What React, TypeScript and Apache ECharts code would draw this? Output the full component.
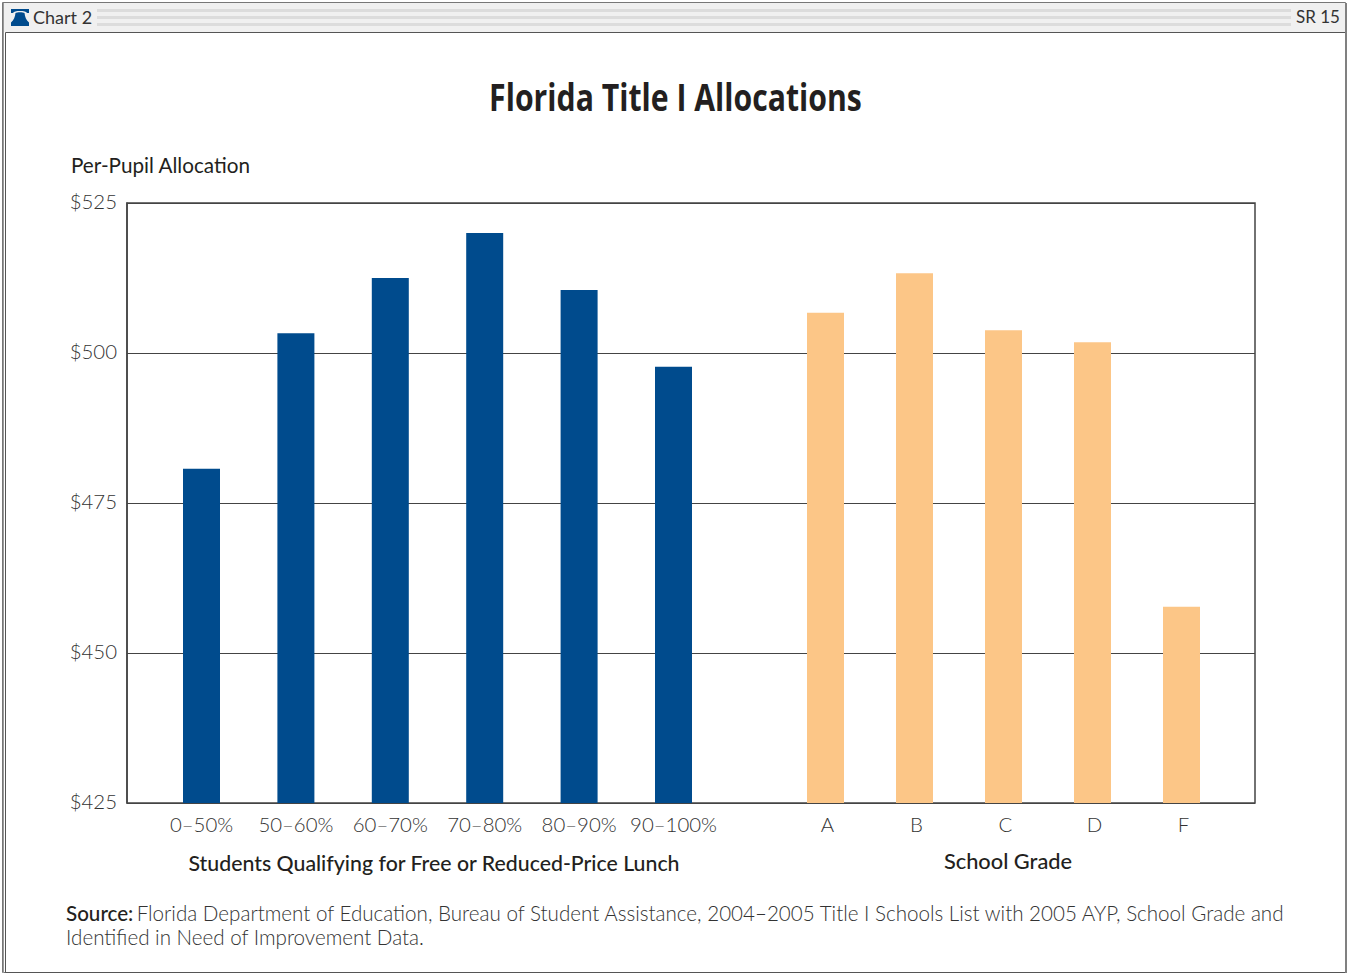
import React, { useEffect, useRef } from "react";
import * as echarts from "echarts";

const lunchCategories = ["0–50%", "50–60%", "60–70%", "70–80%", "80–90%", "90–100%"];
const lunchValues = [480.7, 503.3, 512.5, 520, 510.5, 497.7];
const gradeCategories = ["A", "B", "C", "D", "F"];
const gradeValues = [506.7, 513.3, 503.8, 501.8, 457.7];
const yMin = 425;
const yMax = 525;
const yStep = 25;
const titleText = "Florida Title I Allocations";
const yTitle = "Per-Pupil Allocation";
const lunchAxisTitle = "Students Qualifying for Free or Reduced-Price Lunch";
const gradeAxisTitle = "School Grade";
const sourceLine1 = "Florida Department of Education, Bureau of Student Assistance, 2004–2005 Title I Schools List with 2005 AYP, School Grade and";
const sourceLine2 = "Identified in Need of Improvement Data.";

const FONT = "Lato, 'Open Sans', sans-serif";
const bell = "M11 9 L29 9 L29 13 L27 13 C26 11.5 24 11 20 11 C16 11 14 11.5 13 13 L11 13 Z M15.5 13 C17 12 23 12 24.5 13 C25 17 26 20 29 22.5 L29 26 L11 26 L11 22.5 C14 20 15 17 15.5 13 Z";
echarts.graphic.registerShape("bell", echarts.graphic.extendPath(bell, {}));

export default function App() {
  const ref = useRef<HTMLDivElement>(null);
  useEffect(() => {
    document.body.style.margin = "0";
    document.body.style.background = "#fff";
    const chart = echarts.init(ref.current!, null, { renderer: "svg" });
    const top = 203;
    const height = 600;
    const catAxis = (
      gridIndex: number, data: string[], name: string, gap: number,
      nameSize: number, namePadding: number[], labelPadding: number[],
    ) => ({
      type: "category" as const,
      gridIndex,
      data,
      name,
      nameLocation: "middle" as const,
      nameGap: gap,
      nameTextStyle: { fontFamily: FONT, fontSize: nameSize, fontWeight: 500, color: "#231f20", padding: namePadding },
      axisLine: { show: false },
      axisTick: { show: false },
      axisLabel: { interval: 0, margin: 11, padding: labelPadding, fontFamily: FONT, fontWeight: 300, fontSize: 20.4, color: "#333" },
    });
    const hiddenY = (gridIndex: number) => ({
      type: "value" as const, gridIndex, min: yMin, max: yMax, interval: yStep, show: false,
    });
    const stripes = [9, 16, 23].map((y) => ({
      type: "rect", shape: { x: 97, y, width: 1194, height: 3 }, style: { fill: "#dcdcdc" }, silent: true,
    }));
    chart.setOption({
      animation: false,
      backgroundColor: "#fff",
      title: [
        { text: yTitle, left: 66, top: 149, textStyle: { fontFamily: FONT, fontSize: 20.7, fontWeight: 400, color: "#231f20" } },
      ],
      grid: [
        { left: 127, top, width: 1128, height, show: true, borderColor: "#444", borderWidth: 1.5, backgroundColor: "#fff" },
        { left: 154.3, top, width: 566.4, height },
        { left: 781, top, width: 445, height },
      ],
      xAxis: [
        { type: "category", gridIndex: 0, data: [""], show: false },
        catAxis(1, lunchCategories, lunchAxisTitle, 49, 21.3, [0, 7, 0, 0], [0, 0, 0, 0]),
        catAxis(2, gradeCategories, gradeAxisTitle, 46, 21.8, [0, 0, 0, 9], [0, 0, 0, 4]),
      ],
      yAxis: [
        {
          type: "value", gridIndex: 0, min: yMin, max: yMax, interval: yStep,
          axisLine: { show: true, lineStyle: { color: "#444", width: 1.5 } },
          axisTick: { show: false },
          splitLine: { show: true, lineStyle: { color: "#444", width: 1 } },
          axisLabel: { margin: 10, verticalAlign: "bottom", lineHeight: 5, fontFamily: FONT, fontWeight: 300, fontSize: 20.4, color: "#333", formatter: (v: number) => "$" + v },
        },
        hiddenY(1),
        hiddenY(2),
      ],
      series: [
        { type: "bar", xAxisIndex: 1, yAxisIndex: 1, data: lunchValues, barWidth: 37, itemStyle: { color: "#004b8d" } },
        { type: "bar", xAxisIndex: 2, yAxisIndex: 2, data: gradeValues, barWidth: 37, itemStyle: { color: "#fcc687" } },
      ],
      graphic: [
        { type: "rect", shape: { x: 3, y: 3, width: 1343, height: 29 }, style: { fill: "#f0f0f0" }, silent: true },
        ...stripes,
        { type: "rect", shape: { x: 2.5, y: 2.5, width: 1343, height: 970 }, style: { fill: "none", stroke: "#777", lineWidth: 1 }, silent: true },
        { type: "rect", shape: { x: 5.5, y: 32.5, width: 1340, height: 940 }, style: { fill: "none", stroke: "#555", lineWidth: 1 }, silent: true },
        { type: "rect", shape: { x: 1345, y: 3, width: 2, height: 970 }, style: { fill: "#808080" }, silent: true },
        { type: "rect", shape: { x: 3, y: 3, width: 1, height: 970 }, style: { fill: "#999" }, silent: true },
        { type: "bell", x: 0, y: 0, style: { fill: "#004b8d" }, silent: true },
        { type: "text", x: 33, y: 8, silent: true, style: { text: "Chart 2", font: `400 18px ${FONT}`, fill: "#333" } },
        { type: "text", x: 1296, y: 8, silent: true, style: { text: "SR 15", font: `400 17px ${FONT}`, fill: "#333" } },
        {
          type: "text", x: 675.5, y: 96, scaleX: 0.795, silent: true,
          style: {
            text: titleText,
            font: "700 38px 'Open Sans', sans-serif",
            fill: "#231f20",
            textAlign: "center",
            textVerticalAlign: "middle",
          },
        },
        {
          type: "text", x: 66, y: 901, silent: true,
          style: {
            text: `{b|Source:} {r|${sourceLine1}}\n{r|${sourceLine2}}`,
            rich: {
              b: { fontFamily: FONT, fontSize: 20.6, fontWeight: 500, fill: "#231f20", lineHeight: 24 },
              r: { fontFamily: FONT, fontSize: 20.6, fontWeight: 300, fill: "#333", lineHeight: 24 },
            },
          },
        },
      ],
    });
    return () => chart.dispose();
  }, []);
  return <div ref={ref} style={{ width: 1349, height: 974 }} />;
}
